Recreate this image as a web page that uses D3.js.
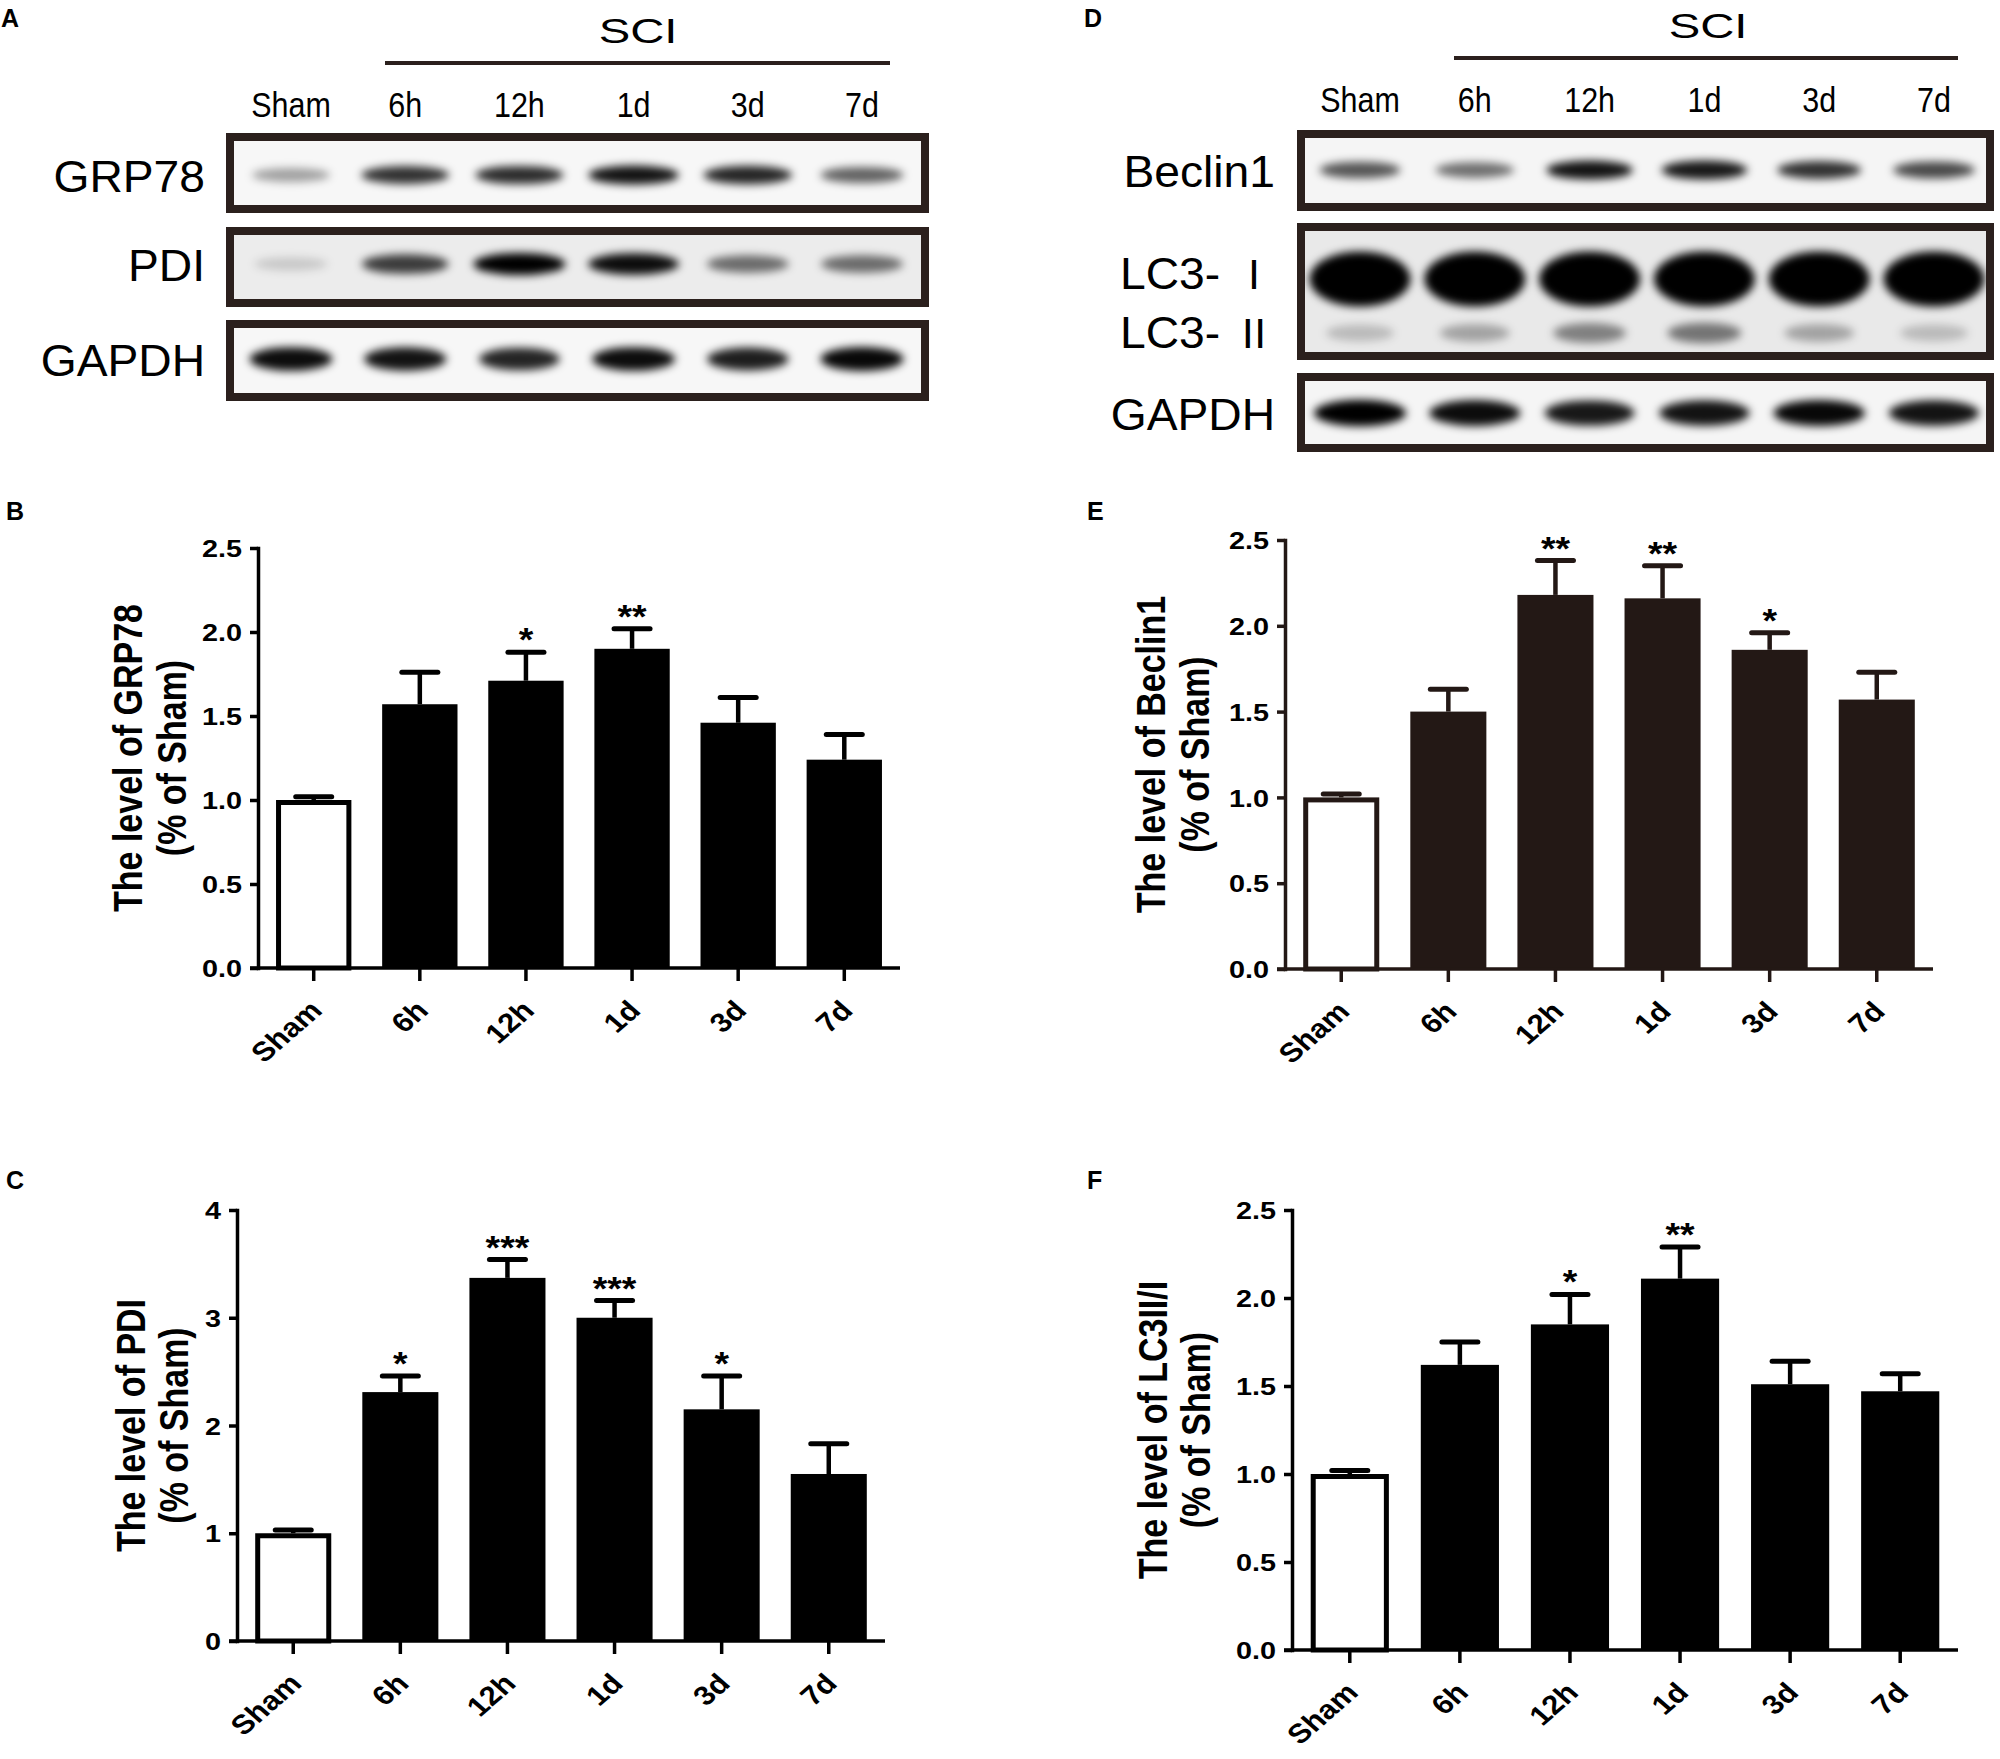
<!DOCTYPE html>
<head>
    <meta charset="utf-8">
    <script src="https://d3js.org/d3.v7.min.js"></script>
    <style>
        body { margin:0; background:#fff; }
        text { font-family: 'Liberation Sans', Arial, sans-serif; fill:#000; }
        .panel-letter { font-weight:bold; font-size:25px; }
        .tick-label { font-weight:bold; font-size:24px; }
        .y-title { font-weight:bold; font-size:34px; }
        .sig { font-weight:bold; font-size:34px; }
        .lane-label { font-size:35px; }
        .row-label { font-size:44px; }
        .roman { font-family: 'Noto Sans CJK SC', 'Noto Sans CJK JP', serif; font-size:40px; }
        .sci { font-size:35px; }
    </style>
</head>

<body>
  <script>
    // ---- data ----
    const groups = ['Sham', '6h', '12h', '1d', '3d', '7d'];

    const grp78Mean = [1.00, 1.57, 1.71, 1.90, 1.46, 1.24];
    const grp78Sem  = [0.02, 0.19, 0.17, 0.12, 0.15, 0.15];
    const grp78Sig  = ['', '', '*', '**', '', ''];

    const pdiMean = [1.00, 2.31, 3.37, 3.00, 2.15, 1.55];
    const pdiSem  = [0.03, 0.15, 0.17, 0.16, 0.31, 0.28];
    const pdiSig  = ['', '*', '***', '***', '*', ''];

    const beclinMean = [1.00, 1.50, 2.18, 2.16, 1.86, 1.57];
    const beclinSem  = [0.02, 0.13, 0.20, 0.19, 0.10, 0.16];
    const beclinSig  = ['', '', '**', '**', '*', ''];

    const lc3Mean = [1.00, 1.62, 1.85, 2.11, 1.51, 1.47];
    const lc3Sem  = [0.02, 0.13, 0.17, 0.18, 0.13, 0.10];
    const lc3Sig  = ['', '', '*', '**', '', ''];

    const ticks25 = [0, 0.5, 1.0, 1.5, 2.0, 2.5];
    const ticks4 = [0, 1, 2, 3, 4];

    // blot band darkness per lane (0 = none, 1 = saturated)
    const grp78Band  = [0.35, 0.80, 0.82, 0.92, 0.85, 0.60];
    const pdiBand    = [0.15, 0.75, 1.00, 0.95, 0.55, 0.55];
    const gapdhBandA = [0.95, 0.92, 0.85, 0.95, 0.88, 0.97];
    const beclinBand = [0.65, 0.55, 0.92, 0.90, 0.80, 0.70];
    const lc3IBand   = [1.00, 1.00, 1.00, 1.00, 1.00, 1.00];
    const lc3IIBand  = [0.20, 0.30, 0.45, 0.50, 0.30, 0.20];
    const gapdhBandD = [1.00, 0.95, 0.90, 0.92, 0.97, 0.92];

    const width = 2000;
    const height = 1759;
    const boxColor = '#2b201d';

    const svg = d3.select('body').append('svg')
        .attr('width', width)
        .attr('height', height);

    const defs = svg.append('defs');
    defs.append('filter').attr('id', 'blur')
        .attr('x', '-50%').attr('y', '-80%').attr('width', '200%').attr('height', '260%')
      .append('feGaussianBlur').attr('stdDeviation', 4);

    // text with horizontal stretch (the figure is a bit wider than it is tall)
    function place(sel, x, y, sx, rot) {
        sel.attr('transform', `translate(${x},${y}) scale(${sx},1)` + (rot ? ` rotate(${rot})` : ''));
        return sel;
    }

    function letter(t, x, y) {
        svg.append('text').attr('class', 'panel-letter')
            .attr('x', x).attr('y', y).text(t);
    }

    // ---- western blot panels ----
    function blotPanel(cfg) {
        const g = svg.append('g');
        const lane = d3.scalePoint().domain(groups).range(cfg.lanes);

        g.append('text').attr('class', 'sci')
            .attr('text-anchor', 'middle')
            .call(place, cfg.sciX, cfg.sciY, 1.35)
            .text('SCI');
        g.append('line')
            .attr('x1', cfg.sciLine[0]).attr('x2', cfg.sciLine[1])
            .attr('y1', cfg.sciLineY).attr('y2', cfg.sciLineY)
            .attr('stroke', boxColor).attr('stroke-width', 4);

        g.selectAll('.lane-label')
            .data(groups)
            .join('text')
            .attr('class', 'lane-label')
            .attr('text-anchor', 'middle')
            .each(function(d) { place(d3.select(this), lane(d), cfg.laneY, 0.87); })
            .text(d => d);

        cfg.rows.forEach((row, i) => {
            const clipId = `clip-${cfg.id}-${i}`;
            defs.append('clipPath').attr('id', clipId)
              .append('rect')
                .attr('x', cfg.x0 + 4).attr('y', row.y0 + 4)
                .attr('width', cfg.x1 - cfg.x0 - 8).attr('height', row.y1 - row.y0 - 8);

            g.append('rect')
                .attr('x', cfg.x0 + 4).attr('y', row.y0 + 4)
                .attr('width', cfg.x1 - cfg.x0 - 8).attr('height', row.y1 - row.y0 - 8)
                .attr('fill', row.bg);

            const bands = g.append('g').attr('clip-path', `url(#${clipId})`);
            row.bands.forEach(b => {
                bands.append('g').attr('filter', 'url(#blur)')
                  .selectAll('ellipse')
                  .data(groups.map((d, j) => ({lane: d, v: b.values[j]})))
                  .join('ellipse')
                    .attr('cx', d => lane(d.lane))
                    .attr('cy', b.cy)
                    .attr('rx', d => b.rx * (0.8 + 0.25 * d.v))
                    .attr('ry', d => b.ry * (0.6 + 0.5 * d.v))
                    .attr('fill', '#000')
                    .attr('fill-opacity', d => Math.min(1, d.v));
            });

            g.append('rect')
                .attr('x', cfg.x0 + 4).attr('y', row.y0 + 4)
                .attr('width', cfg.x1 - cfg.x0 - 8).attr('height', row.y1 - row.y0 - 8)
                .attr('fill', 'none')
                .attr('stroke', boxColor).attr('stroke-width', 8);

            row.labels.forEach(l => {
                const t = g.append('text').attr('class', 'row-label')
                    .attr('text-anchor', 'end')
                    .call(place, cfg.labelX, l.y, 1.05);
                t.append('tspan').text(l.text);
                if (l.roman) t.append('tspan').attr('class', 'roman').text(l.roman);
            });
        });
    }

    blotPanel({
        id: 'a', x0: 226, x1: 929, lanes: [291, 862], laneY: 117,
        sciX: 638, sciY: 43, sciLine: [385, 890], sciLineY: 63, labelX: 205,
        rows: [
            {y0: 133, y1: 213, bg: '#f7f7f7', labels: [{text: 'GRP78', y: 192}],
             bands: [{values: grp78Band, cy: 175, rx: 44, ry: 9}]},
            {y0: 227, y1: 307, bg: '#ececec', labels: [{text: 'PDI', y: 281}],
             bands: [{values: pdiBand, cy: 264, rx: 44, ry: 10}]},
            {y0: 320, y1: 401, bg: '#f7f7f7', labels: [{text: 'GAPDH', y: 376}],
             bands: [{values: gapdhBandA, cy: 359, rx: 40, ry: 11}]}
        ]
    });

    blotPanel({
        id: 'd', x0: 1297, x1: 1994, lanes: [1360, 1934], laneY: 112,
        sciX: 1708, sciY: 38, sciLine: [1454, 1958], sciLineY: 58, labelX: 1275,
        rows: [
            {y0: 130, y1: 211, bg: '#f5f5f5', labels: [{text: 'Beclin1', y: 187}],
             bands: [{values: beclinBand, cy: 170, rx: 42, ry: 9}]},
            {y0: 223, y1: 360, bg: '#e9e9e9',
             labels: [{text: 'LC3- ', roman: 'Ⅰ', y: 289}, {text: 'LC3- ', roman: 'Ⅱ', y: 348}],
             bands: [{values: lc3IIBand, cy: 333, rx: 40, ry: 12},
                     {values: lc3IBand, cy: 279, rx: 48, ry: 25}]},
            {y0: 373, y1: 452, bg: '#f5f5f5', labels: [{text: 'GAPDH', y: 430}],
             bands: [{values: gapdhBandD, cy: 413, rx: 44, ry: 12}]}
        ]
    });

    letter('A', 1, 27);
    letter('D', 1084, 27);

    // ---- bar chart panels ----
    function barPanel(cfg) {
        const color = cfg.color;
        const g = svg.append('g');
        const data = groups.map((d, i) => ({group: d, mean: cfg.mean[i], sem: cfg.sem[i], sig: cfg.sig[i]}));

        const x = d3.scaleBand().domain(groups)
            .range([cfg.ax, cfg.ax1])
            .paddingInner(0.29).paddingOuter(0.17);
        const y = d3.scaleLinear().domain([0, cfg.yMax]).range([cfg.y0, cfg.yTop]);

        // bars
        g.selectAll('.bar')
            .data(data)
            .join('rect')
            .attr('class', 'bar')
            .attr('x', d => d.group === 'Sham' ? x(d.group) + 2.5 : x(d.group))
            .attr('width', d => d.group === 'Sham' ? x.bandwidth() - 5 : x.bandwidth())
            .attr('y', d => d.group === 'Sham' ? y(d.mean) + 2.5 : y(d.mean))
            .attr('height', d => cfg.y0 - y(d.mean) - (d.group === 'Sham' ? 2.5 : 0))
            .attr('fill', d => d.group === 'Sham' ? '#fff' : color)
            .attr('stroke', d => d.group === 'Sham' ? color : 'none')
            .attr('stroke-width', 5);

        // error bars (upper half only)
        const cx = d => x(d.group) + x.bandwidth() / 2;
        g.selectAll('.err')
            .data(data)
            .join('line')
            .attr('class', 'err')
            .attr('x1', cx).attr('x2', cx)
            .attr('y1', d => y(d.mean)).attr('y2', d => y(d.mean + d.sem))
            .attr('stroke', color).attr('stroke-width', 4.5);
        g.selectAll('.cap')
            .data(data)
            .join('line')
            .attr('class', 'cap')
            .attr('x1', d => cx(d) - 18).attr('x2', d => cx(d) + 18)
            .attr('y1', d => y(d.mean + d.sem)).attr('y2', d => y(d.mean + d.sem))
            .attr('stroke', color).attr('stroke-width', 5)
            .attr('stroke-linecap', 'round');

        // significance stars
        g.selectAll('.sig')
            .data(data.filter(d => d.sig))
            .join('text')
            .attr('class', 'sig')
            .attr('text-anchor', 'middle')
            .each(function(d) { place(d3.select(this), cx(d), y(d.mean + d.sem) - 1, 1.1); })
            .text(d => d.sig);

        // y axis
        const yAxis = g.append('g')
            .attr('transform', `translate(${cfg.ax},0)`)
            .call(d3.axisLeft(y)
                .tickValues(cfg.ticks)
                .tickFormat(cfg.fmt)
                .tickSize(8)
                .tickSizeOuter(0));
        yAxis.select('.domain').attr('stroke', color).attr('stroke-width', 3.5).attr('stroke-linecap', 'square');
        yAxis.selectAll('.tick line').attr('stroke', color).attr('stroke-width', 3.5);
        yAxis.selectAll('.tick text')
            .attr('class', 'tick-label')
            .attr('fill', color)
            .attr('x', -16 / 1.2)
            .attr('dy', '0.36em')
            .attr('transform', 'scale(1.2,1)');

        // x axis
        g.append('line')
            .attr('x1', cfg.ax - 8).attr('x2', cfg.ax1)
            .attr('y1', cfg.y0).attr('y2', cfg.y0)
            .attr('stroke', color).attr('stroke-width', 3.5);
        g.selectAll('.xtick')
            .data(groups)
            .join('line')
            .attr('class', 'xtick')
            .attr('x1', d => x(d) + x.bandwidth() / 2).attr('x2', d => x(d) + x.bandwidth() / 2)
            .attr('y1', cfg.y0).attr('y2', cfg.y0 + 13)
            .attr('stroke', color).attr('stroke-width', 3.5);
        g.selectAll('.xlabel')
            .data(groups)
            .join('text')
            .attr('class', 'tick-label xlabel')
            .attr('text-anchor', 'end')
            .attr('fill', color)
            .style('font-size', '27px')
            .each(function(d) { place(d3.select(this), x(d) + x.bandwidth() / 2 + 10, cfg.y0 + 44, 1.15, -45); })
            .text(d => d);

        // y title
        const mid = (cfg.y0 + cfg.yTop) / 2;
        cfg.title.forEach((t, i) => {
            g.append('text').attr('class', 'y-title')
                .attr('text-anchor', 'middle')
                .attr('fill', color)
                .call(place, cfg.ax + cfg.titleX[i], mid, 1.18, -90)
                .text(t);
        });
    }

    const fmt1 = d3.format('.1f');
    const fmt0 = d3.format('d');

    barPanel({mean: grp78Mean, sem: grp78Sem, sig: grp78Sig, color: '#000',
        ax: 258, ax1: 900, y0: 968, yTop: 548, yMax: 2.5, ticks: ticks25, fmt: fmt1,
        title: ['The level of GRP78', '(% of Sham)'], titleX: [-116, -72]});
    barPanel({mean: pdiMean, sem: pdiSem, sig: pdiSig, color: '#000',
        ax: 237, ax1: 885, y0: 1641, yTop: 1210, yMax: 4, ticks: ticks4, fmt: fmt0,
        title: ['The level of PDI', '(% of Sham)'], titleX: [-92, -49]});
    barPanel({mean: beclinMean, sem: beclinSem, sig: beclinSig, color: '#231815',
        ax: 1285, ax1: 1933, y0: 969, yTop: 540, yMax: 2.5, ticks: ticks25, fmt: fmt1,
        title: ['The level of Beclin1', '(% of Sham)'], titleX: [-120, -76]});
    barPanel({mean: lc3Mean, sem: lc3Sem, sig: lc3Sig, color: '#000',
        ax: 1292, ax1: 1958, y0: 1650, yTop: 1210, yMax: 2.5, ticks: ticks25, fmt: fmt1,
        title: ['The level of LC3II/I', '(% of Sham)'], titleX: [-125, -82]});

    letter('B', 6, 520);
    letter('C', 6, 1189);
    letter('E', 1087, 520);
    letter('F', 1087, 1189);
  </script>
</body>
